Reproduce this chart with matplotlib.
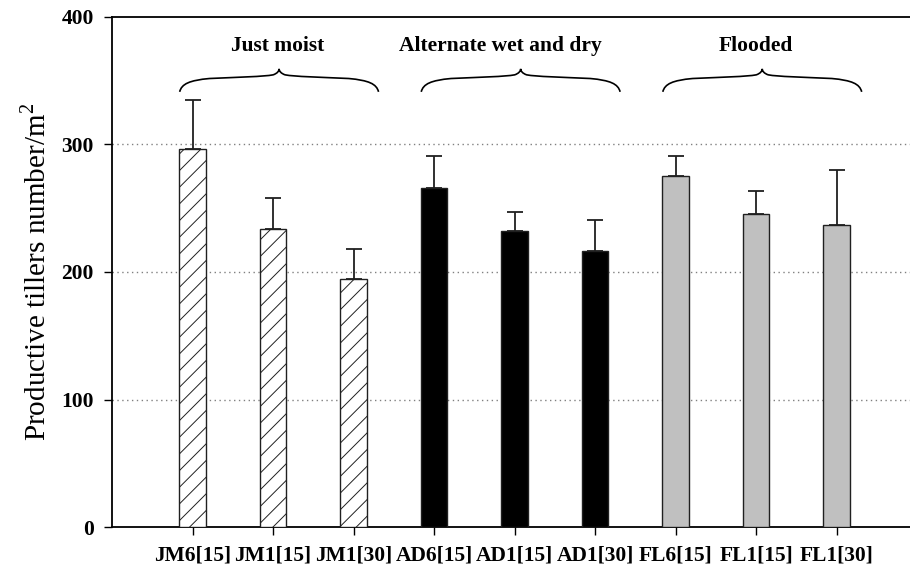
import numpy as np
import matplotlib
matplotlib.use('Agg')
import matplotlib.pyplot as plt
from matplotlib.path import Path
from matplotlib.patches import PathPatch

# Dados
treatments = ['JM6[15]', 'JM1[15]', 'JM1[30]', 'AD6[15]', 'AD1[15]', 'AD1[30]',
              'FL6[15]', 'FL1[15]', 'FL1[30]']
tillers = [296, 233.5, 194.5, 266, 232, 216, 275, 245, 237]
tillers_err = [39, 24.5, 23.5, 25, 15, 25, 16, 18, 43]

groups = ['Just moist', 'Alternate wet and dry', 'Flooded']
group_members = [[0, 1, 2], [3, 4, 5], [6, 7, 8]]

plt.rcParams['font.family'] = ['Liberation Serif', 'DejaVu Serif']
plt.rcParams['mathtext.fontset'] = 'custom'
plt.rcParams['mathtext.rm'] = 'Liberation Serif'
plt.rcParams['hatch.linewidth'] = 0.7

fig = plt.figure(figsize=(9.1, 5.75), dpi=100)
ax = fig.add_axes([0.1231, 0.083, 0.8769, 0.8883])

x = np.arange(len(treatments))
styles = [
    {'facecolor': 'white', 'hatch': '//'},
    {'facecolor': 'black', 'hatch': None},
    {'facecolor': '#c0c0c0', 'hatch': None},
]

for g, members in enumerate(group_members):
    for i in members:
        ax.bar(x[i], tillers[i], width=0.33, color=styles[g]['facecolor'],
               edgecolor='#202020', linewidth=1.0, hatch=styles[g]['hatch'], zorder=3)
        ax.errorbar(x[i], tillers[i], yerr=[[0], [tillers_err[i]]], fmt='none',
                    ecolor='#202020', elinewidth=1.3, capsize=6, capthick=1.3, zorder=2)

# Grade pontilhada
for yv in [100, 200, 300]:
    ax.axhline(yv, color='#808080', linestyle=(0, (1, 2.5)), linewidth=1.0, zorder=1)


def brace(ax, x0, x1, y0, h):
    # chave curva (bezier) apontando para cima
    pts = [(0, 0), (0.01, 0.35), (0.05, 0.5), (0.15, 0.58),
           (0.3, 0.64), (0.42, 0.66), (0.47, 0.74),
           (0.49, 0.8), (0.5, 0.9), (0.5, 1.0),
           (0.5, 0.9), (0.51, 0.8), (0.53, 0.74),
           (0.58, 0.66), (0.7, 0.64), (0.85, 0.58),
           (0.95, 0.5), (0.99, 0.35), (1.0, 0.0)]
    codes = [Path.MOVETO] + [Path.CURVE4] * (len(pts) - 1)
    verts = [(x0 + u * (x1 - x0), y0 + v * h) for u, v in pts]
    ax.add_patch(PathPatch(Path(verts, codes), facecolor='none',
                           edgecolor='black', linewidth=1.2, zorder=4))


text_shift = [0.06, -0.18, 0.0]
for g, members in enumerate(group_members):
    brace(ax, x[members[0]] - 0.16, x[members[-1]] + 0.31, 341, 18)
    ax.text(np.mean(x[members]) + text_shift[g], 373, groups[g], ha='center',
            va='baseline', fontsize=15.5, fontweight='bold')

ax.set_xlim(-1, 8.91)
ax.set_ylim(0, 400)
ax.set_yticks([0, 100, 200, 300, 400])
ax.set_xticks(x)
ax.set_xticklabels(treatments)
for lab in ax.get_xticklabels() + ax.get_yticklabels():
    lab.set_fontweight('bold')
    lab.set_fontsize(15.5)
ax.tick_params(axis='both', direction='out', length=6, width=1.0, pad=7)
ax.spines['right'].set_visible(False)
for s in ['left', 'top', 'bottom']:
    ax.spines[s].set_linewidth(1.3)
ax.set_ylabel('Productive tillers number/m$^2$', fontsize=21, labelpad=7)

fig.savefig('out.png', dpi=100)
